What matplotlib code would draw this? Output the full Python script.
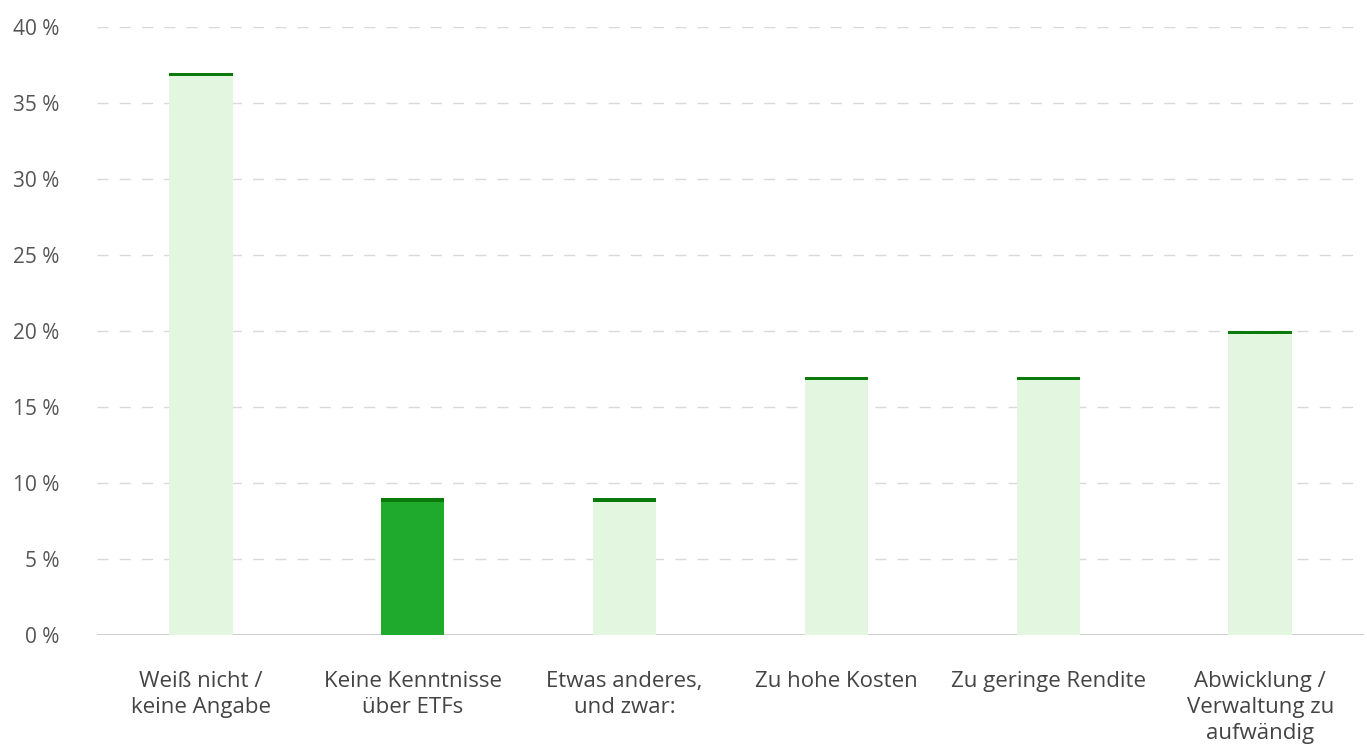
import matplotlib
matplotlib.use("Agg")
import matplotlib.pyplot as plt

plt.rcParams["font.family"] = ["Open Sans", "DejaVu Sans"]

categories = [
    "Weiß nicht /\nkeine Angabe",
    "Keine Kenntnisse\nüber ETFs",
    "Etwas anderes,\nund zwar:",
    "Zu hohe Kosten",
    "Zu geringe Rendite",
    "Abwicklung /\nVerwaltung zu\naufwändig",
]
values = [37, 9, 9, 17, 17, 20]
highlight = [False, True, False, False, False, False]
y_ticks = [0, 5, 10, 15, 20, 25, 30, 35, 40]

LIGHT = "#e3f7e0"
STRONG = "#1faa2e"
EDGE_TOP = "#0a7a0a"
BAR_W = 0.30
CAP = 0.22  # height of the dark cap, in data units

fig = plt.figure(figsize=(13.67, 7.47), dpi=100)
ax = fig.add_axes([97 / 1367, 112 / 747, 1267 / 1367, 608 / 747])

x = list(range(len(categories)))
colors = [STRONG if h else LIGHT for h in highlight]
ax.bar(x, values, width=BAR_W, color=colors, zorder=2)
# dark cap sitting just under the top of each bar
ax.bar(x, [CAP] * len(values), bottom=[v - CAP for v in values],
       width=BAR_W, color=EDGE_TOP, zorder=3)

ax.set_ylim(0, 40)
ax.set_xlim(-0.49, 5.49)
ax.set_yticks(y_ticks)
ax.set_yticklabels([f"{t} %" for t in y_ticks])
ax.set_xticks(x)
ax.set_xticklabels(categories, linespacing=1.32)

for t in y_ticks[1:]:
    ax.axhline(t, color="#d9d9d9", linewidth=1, linestyle=(0, (8, 8)), zorder=1)
ax.axhline(0, color="#cfcfcf", linewidth=1.5, zorder=1)

for s in ax.spines.values():
    s.set_visible(False)
ax.tick_params(axis="y", length=0, pad=27, labelsize=15, labelcolor="#555555")
ax.tick_params(axis="x", length=0, pad=26, labelsize=16, labelcolor="#444444")
for lab in ax.get_xticklabels():
    lab.set_horizontalalignment("center")

fig.savefig("out.png", dpi=100)
